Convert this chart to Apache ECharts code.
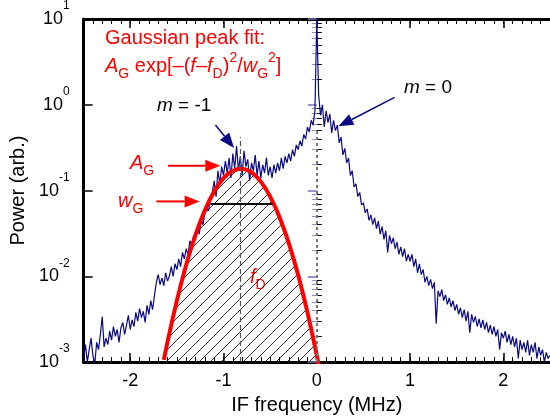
<!DOCTYPE html>
<html>
<head>
<meta charset="utf-8">
<script src="https://cdn.jsdelivr.net/npm/echarts@6/dist/echarts.min.js"></script>
<style>
  html, body { margin: 0; padding: 0; background: #fff; }
  #chart { width: 550px; height: 420px; }
</style>
</head>
<body>
<div id="chart"></div>
<script>
// measured spectrum, one sample every 0.02 MHz starting at -2.5 MHz
const freqStart = -2.5;
const freqStep = 0.02;
const spectrumPower = [
  0.0011, 0.0016, 0.0010, 0.0014, 0.0019, 0.0012, 0.00095, 0.0017, 0.0014, 0.0021,
  0.0034, 0.0015, 0.0019, 0.0016, 0.0023, 0.0018, 0.0026, 0.0020, 0.0024, 0.0017,
  0.0025, 0.0029, 0.0021, 0.0027, 0.0035,
  0.0024, 0.0031, 0.0026, 0.0038, 0.0030, 0.0042, 0.0033, 0.0039, 0.0029, 0.0046,
  0.0036, 0.0052, 0.0041, 0.0060, 0.0085, 0.0105, 0.0080, 0.0096, 0.0078, 0.011,
  0.0088, 0.010, 0.013, 0.010, 0.014,
  0.012, 0.016, 0.013, 0.019, 0.016, 0.021, 0.018, 0.026, 0.022, 0.030,
  0.027, 0.036, 0.031, 0.045, 0.040, 0.055, 0.064, 0.058, 0.080, 0.095,
  0.13, 0.085, 0.17, 0.12, 0.19,
  0.15, 0.22, 0.16, 0.24, 0.14, 0.27, 0.18, 0.33, 0.17, 0.25,
  0.15, 0.29, 0.19, 0.23, 0.13, 0.21, 0.17, 0.26, 0.15, 0.22,
  0.14, 0.20, 0.16, 0.24, 0.15,
  0.19, 0.14, 0.20, 0.16, 0.21, 0.17, 0.24, 0.18, 0.25, 0.21,
  0.27, 0.22, 0.30, 0.25, 0.34, 0.30, 0.38, 0.33, 0.45, 0.40,
  0.55, 0.48, 0.66, 0.58, 0.85,
  10, 1.3, 0.75, 1.0, 0.55, 0.85, 0.62, 0.78, 0.47, 0.66,
  0.50, 0.58, 0.36, 0.42, 0.26, 0.31, 0.21, 0.24, 0.15, 0.17,
  0.11, 0.12, 0.085, 0.095, 0.068,
  0.072, 0.055, 0.061, 0.045, 0.052, 0.040, 0.048, 0.036, 0.044, 0.031,
  0.038, 0.027, 0.034, 0.019, 0.030, 0.024, 0.028, 0.021, 0.025, 0.018,
  0.022, 0.017, 0.021, 0.015, 0.018,
  0.015, 0.018, 0.013, 0.016, 0.011, 0.014, 0.0105, 0.012, 0.0085, 0.010,
  0.0078, 0.0092, 0.0072, 0.0085, 0.0028, 0.0068, 0.0058, 0.0070, 0.0052, 0.0061,
  0.0047, 0.0056, 0.0044, 0.0052, 0.0040,
  0.0047, 0.0036, 0.0043, 0.0033, 0.0041, 0.0030, 0.0039, 0.0022, 0.0036, 0.0029,
  0.0034, 0.0026, 0.0032, 0.0025, 0.0031, 0.0024, 0.0029, 0.0022, 0.0027, 0.0021,
  0.0026, 0.0020, 0.0024, 0.0014, 0.0022,
  0.0019, 0.0023, 0.0017, 0.0021, 0.0016, 0.0020, 0.0015, 0.0019, 0.0011, 0.0018,
  0.0014, 0.0017, 0.0013, 0.0018, 0.0012, 0.0016, 0.0013, 0.0017, 0.0011, 0.0015,
  0.0012, 0.0014, 0.0010, 0.0013, 0.0011, 0.0012
];

// gaussian peak fit (red curve)
const gaussFreq = [
  -1.64, -1.60, -1.55, -1.50, -1.45, -1.40, -1.35, -1.30, -1.25, -1.20,
  -1.15, -1.10, -1.05, -1.00, -0.95, -0.90, -0.85, -0.80, -0.75, -0.70,
  -0.65, -0.60, -0.55, -0.50, -0.45, -0.40, -0.35, -0.30, -0.25, -0.20,
  -0.15, -0.10, -0.05, 0.00, 0.02
];
const gaussPower = [
  0.00106, 0.00172, 0.00305, 0.00521, 0.00857, 0.0136, 0.0208, 0.0305, 0.0432, 0.0588,
  0.0772, 0.0975, 0.1186, 0.139, 0.157, 0.170, 0.178, 0.180, 0.174, 0.163,
  0.147, 0.127, 0.106, 0.0851, 0.0659, 0.0491, 0.0352, 0.0243, 0.0162, 0.0104,
  0.00639, 0.00380, 0.00217, 0.00120, 0.00093
];

// fit markers
const fitCenter = -0.82;            // f_D
const fitWidthEnds = [-1.14, -0.475]; // f_D -/+ w_G
const fitWidthLevel = 0.0708;
const carrierFreq = 0;

// axis ticks
const xTickValues = [-2, -1, 0, 1, 2];
const yTickValues = [0.001, 0.01, 0.1, 1, 10];
const yTickLabels = ['-3', '-2', '-1', '0', '1'];

const font = 'Liberation Sans, Arial, Helvetica, sans-serif';
const red = '#ff0000';
const navy = '#0a0a80';

const spectrumData = spectrumPower.map((v, i) => [+(freqStart + i * freqStep).toFixed(2), v]);
const gaussData = gaussFreq.map((f, i) => [f, gaussPower[i]]);

const minorX = [];
for (let k = -25; k <= 25; k++) minorX.push(k / 10);
const minorY = [];
for (let e = -3; e < 1; e++) {
  for (let m = 2; m <= 9; m++) minorY.push(+(m * Math.pow(10, e)).toPrecision(3));
}

// hatch pattern for the area under the fit
const hatch = document.createElement('canvas');
hatch.width = 11;
hatch.height = 11;
const hc = hatch.getContext('2d');
hc.strokeStyle = '#000';
hc.lineWidth = 0.8;
hc.beginPath();
hc.moveTo(-1, 12); hc.lineTo(12, -1);
hc.moveTo(-1, 1); hc.lineTo(1, -1);
hc.moveTo(10, 12); hc.lineTo(12, 10);
hc.stroke();

const xBase = {
  type: 'value', min: -2.5, max: 2.5,
  splitLine: { show: false },
  axisLine: { onZero: false, lineStyle: { color: '#000', width: 3 } },
  axisLabel: { show: false }
};
const yBase = {
  type: 'log', logBase: 10, min: 0.001, max: 10,
  splitLine: { show: false },
  axisLine: { onZero: false, lineStyle: { color: '#000', width: 3 } },
  axisLabel: { show: false }
};
const majorTick = (vals, color) => ({ inside: true, length: 9, customValues: vals, lineStyle: { color: color, width: 1.5 } });
const minorTick = (vals, color) => ({ inside: true, length: 5, customValues: vals, lineStyle: { color: color, width: 1 } });

const options = {
  animation: false,
  grid: { left: 80, top: 18, right: -3, bottom: 56 },
  xAxis: [
    {
      ...xBase, position: 'bottom',
      name: 'IF frequency (MHz)', nameLocation: 'middle', nameGap: 28,
      nameTextStyle: { fontSize: 20, color: '#000', fontFamily: font },
      axisTick: majorTick(xTickValues, '#000'),
      axisLabel: { show: true, customValues: xTickValues, fontSize: 18, color: '#000', margin: 10, fontFamily: font }
    },
    { ...xBase, position: 'bottom', axisLine: { show: false }, axisTick: minorTick(minorX, '#000') },
    { ...xBase, position: 'top', axisTick: majorTick(xTickValues, '#000') },
    { ...xBase, position: 'top', axisLine: { show: false }, axisTick: minorTick(minorX, '#000') }
  ],
  yAxis: [
    {
      ...yBase, position: 'left',
      name: 'Power (arb.)', nameLocation: 'middle', nameGap: 48,
      nameTextStyle: { fontSize: 20, color: '#000', fontFamily: font },
      axisTick: majorTick(yTickValues, '#000'),
      axisLabel: {
        show: true, customValues: yTickValues, margin: 14, color: '#000', fontFamily: font,
        formatter: function (value) {
          const idx = yTickValues.findIndex(v => Math.abs(v - value) / v < 1e-6);
          return '{b|10}{s|' + (idx >= 0 ? yTickLabels[idx] : '') + '}';
        },
        rich: {
          b: { fontSize: 18, lineHeight: 38, fontFamily: font, color: '#000' },
          s: { fontSize: 12, lineHeight: 12, verticalAlign: 'top', fontFamily: font, color: '#000' }
        }
      }
    },
    { ...yBase, position: 'left', axisLine: { show: false }, axisTick: minorTick(minorY, '#000') },
    { ...yBase, position: 'right', axisLine: { show: false }, axisTick: majorTick(yTickValues, '#6d76b8') },
    { ...yBase, position: 'right', axisLine: { show: false }, axisTick: minorTick(minorY, '#8a92c8') }
  ],
  series: [
    {
      name: 'hatch', type: 'line', data: gaussData, showSymbol: false, silent: true, z: 1,
      lineStyle: { width: 0 },
      areaStyle: { origin: 'start', opacity: 1, color: { image: hatch, repeat: 'repeat' } }
    },
    {
      name: 'spectrum', type: 'line', data: spectrumData, showSymbol: false, z: 2,
      lineStyle: { color: navy, width: 1.2 },
      markLine: {
        silent: true, symbol: 'none', label: { show: false },
        data: [
          [{ coord: [fitCenter, 0.001], lineStyle: { color: '#555', width: 1.2, type: [5, 3] } }, { coord: [fitCenter, 0.42] }],
          [{ coord: [carrierFreq, 0.001], lineStyle: { color: '#777', width: 2, type: [3, 3] } }, { coord: [carrierFreq, 0.5] }],
          [{ coord: [fitWidthEnds[0], fitWidthLevel], lineStyle: { color: '#000', width: 2, type: 'solid' } }, { coord: [fitWidthEnds[1], fitWidthLevel] }]
        ]
      }
    },
    {
      name: 'fit', type: 'line', data: gaussData, showSymbol: false, z: 3,
      lineStyle: { color: red, width: 4 }
    }
  ]
};

const chart = echarts.init(document.getElementById('chart'));
chart.setOption(options);

// annotations: arrows anchored in data coordinates
const arrowDefs = [
  { from: [-1.087, 0.58], to: [-0.887, 0.314], color: navy, width: 1.5 },
  { from: [0.834, 1.22], to: [0.232, 0.56], color: navy, width: 1.5 },
  { from: [-1.594, 0.195], to: [-1.034, 0.195], color: red, width: 2 },
  { from: [-1.72, 0.0747], to: [-1.256, 0.0747], color: red, width: 2 }
];
function toPx(p) {
  return chart.convertToPixel({ xAxisIndex: 0, yAxisIndex: 0 }, p);
}
function arrow(def) {
  const a = toPx(def.from), b = toPx(def.to);
  const ang = Math.atan2(b[1] - a[1], b[0] - a[0]);
  const len = 15, half = 6;
  const bx = b[0] - len * Math.cos(ang), by = b[1] - len * Math.sin(ang);
  return [
    { type: 'line', silent: true, shape: { x1: a[0], y1: a[1], x2: bx, y2: by }, style: { stroke: def.color, lineWidth: def.width } },
    {
      type: 'polygon', silent: true,
      shape: { points: [[b[0], b[1]], [bx - half * Math.sin(ang), by + half * Math.cos(ang)], [bx + half * Math.sin(ang), by - half * Math.cos(ang)]] },
      style: { fill: def.color }
    }
  ];
}

const richRed = {
  n: { fontSize: 20, lineHeight: 30, fontFamily: font, fill: red },
  i: { fontSize: 20, lineHeight: 30, fontFamily: font, fontStyle: 'italic', fill: red },
  sb: { fontSize: 14, lineHeight: 14, fontFamily: font, verticalAlign: 'bottom', fill: red },
  sp: { fontSize: 14, lineHeight: 14, fontFamily: font, verticalAlign: 'top', fill: red }
};
const richBlack = {
  n: { fontSize: 19, lineHeight: 24, fontFamily: font, fill: '#000' },
  i: { fontSize: 19, lineHeight: 24, fontFamily: font, fontStyle: 'italic', fill: '#000' }
};

let graphics = [];
arrowDefs.forEach(d => { graphics = graphics.concat(arrow(d)); });
graphics.push(
  { type: 'text', silent: true, x: 105, y: 28, style: { text: 'Gaussian peak fit:', fill: red, fontSize: 20, fontFamily: font } },
  { type: 'text', silent: true, x: 105, y: 51, style: { text: '{i|A}{sb|G}{n| exp[–(}{i|f}{n|–}{i|f}{sb|D}{n|)}{sp|2}{n|/}{i|w}{sb|G}{sp|2}{n|]}', rich: richRed } },
  { type: 'text', silent: true, x: 157, y: 94, style: { text: '{i|m}{n| = -1}', rich: richBlack } },
  { type: 'text', silent: true, x: 404, y: 76, style: { text: '{i|m}{n| = 0}', rich: richBlack } },
  { type: 'text', silent: true, x: 130, y: 148, style: { text: '{i|A}{sb|G}', rich: richRed } },
  { type: 'text', silent: true, x: 118, y: 186, style: { text: '{i|w}{sb|G}', rich: richRed } },
  { type: 'text', silent: true, x: 250, y: 262, style: { text: '{i|f}{sb|D}', rich: richRed } }
);
chart.setOption({ graphic: graphics });

window.onresize = function () {
  chart.resize();
};
</script>
</body>
</html>
